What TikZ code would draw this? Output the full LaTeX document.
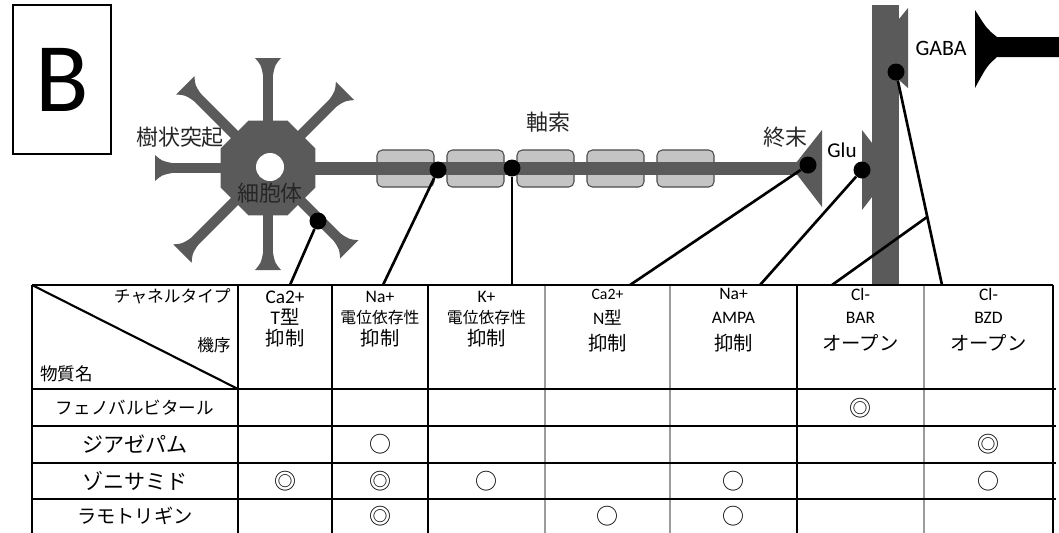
\documentclass[tikz,border=0pt]{standalone}
\usepackage{fontspec}
\setmainfont{Carlito}
\newfontfamily\jp{Noto Sans CJK JP}
\usetikzlibrary{shapes.geometric, calc}

\definecolor{cellgray}{HTML}{5A5A5A}
\definecolor{myelingray}{HTML}{C4C4C4}
\definecolor{rulegray}{HTML}{9C9C9C}

\newcommand{\fs}[1]{\fontsize{#1}{#1}\selectfont}

\begin{document}
\begin{tikzpicture}[
    x=0.02cm, y=-0.02cm,
    neuron/.style={fill=cellgray, draw=none},
    sheath/.style={fill=myelingray, draw=black!70, line width=0.6pt, rounded corners=3pt},
    site/.style={circle, fill=black, inner sep=0pt, minimum size=0.34cm},
    link/.style={line width=1.5pt, black},
    lbl/.style={inner sep=0pt, font=\jp\fs{12.5}, text=black!85},
    tbl/.style={line width=1.1pt, black},
    tblthin/.style={line width=0.9pt, rulegray},
    cell/.style={inner sep=0pt, font=\jp\fs{11}},
    hd/.style={inner sep=0pt, font=\fs{10}}
]
\clip (0,0) rectangle (1059,532);
\useasboundingbox (0,0) rectangle (1059,532);

% panel letter
\node (panel) [draw, line width=0.8pt, minimum width=1.96cm, minimum height=2.98cm,
    inner sep=0pt, font=\fs{56}] at (62,79.5) {B};

% myelin sheaths and axon
\foreach \s in {377,447,517,587,657}
  \draw[sheath] (\s,150) rectangle ++(57,37);
\fill[neuron] (268,161.5) rectangle (800,174.5);
\fill[neuron] (792,168) -- (822,130) -- (822,207) -- cycle;

% dendrites with their end caps
\foreach \a/\r in {45/109, 90/110, 135/117, 180/113, 225/121, 270/102, 315/115} {
  \begin{scope}[shift={(268,168)}, rotate=\a]
    \fill[neuron] (0,-5) rectangle (\r-12,5);
    \fill[neuron] (\r-17,5) .. controls (\r-7,7) .. (\r,13) -- (\r,-13)
        .. controls (\r-7,-7) .. (\r-17,-5) -- cycle;
  \end{scope}
}

% cell body
\node (soma) [regular polygon, regular polygon sides=8, minimum size=2.05cm,
    inner sep=0pt, neuron] at (268,168) {};
\node (nucleus) [circle, fill=white, minimum size=0.56cm, inner sep=0pt] at (270,167) {};

% post-synaptic side
\fill[neuron] (872,5) rectangle (899,284);
\fill[neuron] (862,130) -- (872,143) -- (872,197) -- (862,210) -- cycle;
\fill[neuron] (899,19) -- (908,8) -- (908,88) -- (899,80) -- cycle;

% GABA terminal
\fill[black] (975,10) .. controls (987,29) .. (997,37) -- (1062,37) -- (1062,57)
    -- (997,57) .. controls (987,66) .. (975,88) -- cycle;

% labels
\node (dendriteLbl) [lbl] at (180,137) {樹状突起};
\node (somaLbl) [lbl] at (270,193) {細胞体};
\node (axonLbl) [lbl] at (548,122) {軸索};
\node (termLbl) [lbl] at (785,137) {終末};
\node (gluLbl) [inner sep=0pt, font=\fs{12}] at (842,150) {Glu};
\node (gabaLbl) [inner sep=0pt, font=\fs{12.5}] at (941,48) {GABA};

% binding sites
\node (somaSite) [site] at (318,221) {};
\node (naSite) [site] at (438,170) {};
\node (kSite) [site] at (512,168) {};
\node (termSite) [site] at (808,165) {};
\node (gluSite) [site] at (862,170) {};
\node (gabaSite) [site] at (896,72) {};

% where the leaders meet the table
\coordinate (p1) at (290,285);
\coordinate (p2) at (383,285);
\coordinate (p3) at (512,285);
\coordinate (p4) at (630,285);
\coordinate (p5) at (760,285);
\coordinate (p6) at (832,285);
\coordinate (p7) at (942,285);
\coordinate (barJoin) at ($(gabaSite)!0.68!(p7)$);

\draw[link] (somaSite) -- (p1);
\draw[link] (naSite) -- (p2);
\draw[link] (kSite) -- (p3);
\draw[link] (termSite) -- (p4);
\draw[link] (gluSite) -- (p5);
\draw[link] (p6) -- (barJoin);
\draw[link] (gabaSite) -- (p7);

% table rules
\foreach \x in {545,670,924}
  \draw[tblthin] (\x,285) -- (\x,540);
\foreach \y in {389,426,463,499}
  \draw[tbl] (32,\y) -- (1056,\y);
\foreach \x in {32,238,332,428,797,1053}
  \draw[tbl] (\x,285) -- (\x,540);
\draw[tbl] (32,285) -- (1053,285);
\draw[line width=1.2pt] (32,285) -- (238,389);

% corner cell
\node (chLbl) [cell, anchor=east, font=\jp\fs{9.5}] at (231,296) {チャネルタイプ};
\node (mechLbl) [cell, anchor=east, font=\jp\fs{9.5}] at (231,345) {機序};
\node (drugLbl) [cell, anchor=west, font=\jp\fs{10}] at (40,374) {物質名};

% channel headers
\foreach \x/\a/\b/\c [count=\i] in {
    285/{\fs{11}Ca2+}/{\fs{11}T{\jp 型}}/{\jp\fs{11}抑制},
    380/{Na+}/{\jp\fs{9}電位依存性}/{\jp\fs{11}抑制},
    486.5/{K+}/{\jp\fs{9}電位依存性}/{\jp\fs{11}抑制}} {
  \node (hd\i-1) [hd] at (\x,297) {\a};
  \node (hd\i-2) [hd] at (\x,317) {\b};
  \node (hd\i-3) [hd] at (\x,338) {\c};
}
\foreach \x/\a/\b/\c [count=\i from 4] in {
    607.5/{\fs{9}Ca2+}/{N{\jp 型}}/{\jp\fs{11}抑制},
    733.5/{Na+}/{AMPA}/{\jp\fs{11}抑制},
    860.5/{Cl-}/{BAR}/{\jp\fs{11}オープン},
    988.5/{Cl-}/{BZD}/{\jp\fs{11}オープン}} {
  \node (hd\i-1) [hd] at (\x,294) {\a};
  \node (hd\i-2) [hd] at (\x,318) {\b};
  \node (hd\i-3) [hd] at (\x,343) {\c};
}

% drug names
\node (drug1) [cell, font=\jp\fs{10}] at (135,408) {フェノバルビタール};
\node (drug2) [cell, font=\jp\fs{12}] at (135,444) {ジアゼパム};
\node (drug3) [cell, font=\jp\fs{12}] at (135,481) {ゾニサミド};
\node (drug4) [cell, font=\jp\fs{11}] at (135,516) {ラモトリギン};

% effect marks
\foreach \x/\y/\m [count=\k] in {
    860.5/408/◎,
    380/444/○, 988.5/444/◎,
    285/481/◎, 380/481/◎, 486.5/481/○, 733.5/481/○, 988.5/481/○,
    380/516/◎, 607.5/516/○, 733.5/516/○}
  \node (mark\k) [cell, font=\jp\fs{12.5}] at (\x,\y) {\m};

\end{tikzpicture}
\end{document}
